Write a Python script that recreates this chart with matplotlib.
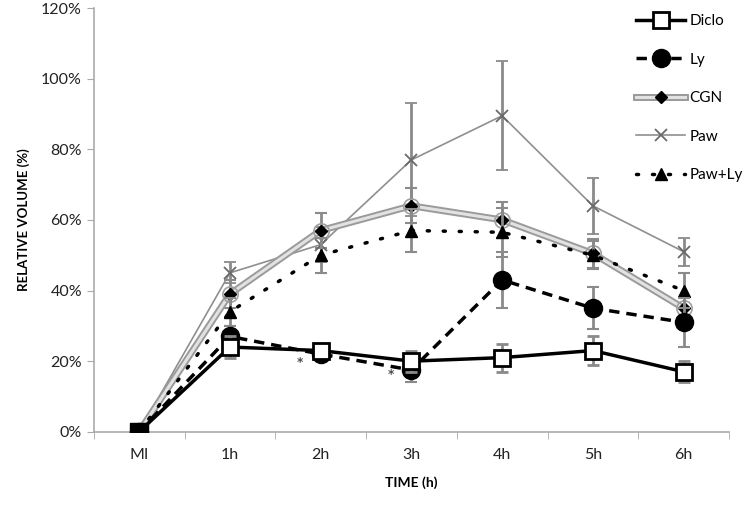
import matplotlib.pyplot as plt
from matplotlib.lines import Line2D
from matplotlib.ticker import PercentFormatter, FixedLocator

# data (relative volume in %)
times = ["MI", "1h", "2h", "3h", "4h", "5h", "6h"]

diclo = [0, 24, 23, 20, 21, 23, 17]
diclo_err = [0, 3, 2, 3, 4, 4, 3]

ly = [0, 27, 22, 17.5, 43, 35, 31]
ly_err = [0, 3, 2, 3.5, 8, 6, 7]

cgn = [0, 39, 57, 64, 60, 50.5, 35]
cgn_err = [0, 4, 5, 5, 5, 4, 3]

paw = [0, 45, 53, 77, 89.5, 64, 51]
paw_err = [0, 3, 5, 16, 15.5, 8, 4]

pawly = [0, 34, 50, 57, 56.5, 50, 40]
pawly_err = [0, 4, 5, 6, 7, 4, 5]

# significance marks (x position, y value)
stars_x = [1.77, 2.78]
stars_y = [18.7, 15.3]

plt.rcParams['font.family'] = ['Lato', 'DejaVu Sans']

fig = plt.figure(figsize=(7.5, 5.05), dpi=100)
ax = fig.add_axes([0.125, 0.145, 0.847, 0.839])
x = list(range(len(times)))

ebar = dict(ecolor='#8a8a8a', elinewidth=2, capsize=4, capthick=1.5)

# styles shared by plot and legend
paw_st = dict(color='#8f8f8f', lw=1.2, marker='x', ms=9, mew=1.3, mec='#6a6a6a')
pawly_st = dict(color='black', lw=2.5, ls=(0, (0.6, 4)), dash_capstyle='round',
                marker='^', ms=8)
ly_st = dict(color='black', lw=2.5, ls=(0, (3, 2)), marker='o', ms=13)
diclo_st = dict(color='black', lw=2.5, marker='s', ms=11, mfc='white', mec='black', mew=2)

# Paw
ax.errorbar(x, paw, yerr=paw_err, zorder=2, **paw_st, **ebar)

# CGN: gray double line look
ax.errorbar(x, cgn, yerr=cgn_err, fmt='none', zorder=2, **ebar)
ax.plot(x, cgn, color='#9a9a9a', lw=5, zorder=3, solid_capstyle='round')
ax.plot(x, cgn, color='#e2e2e2', lw=2.2, zorder=3)
ax.plot(x, cgn, ls='none', marker='o', ms=11, mfc='none', mec='#a0a0a0', mew=1.2, zorder=3)
ax.plot(x, cgn, ls='none', marker='D', ms=6, color='black', zorder=4)

# Paw+Ly
ax.errorbar(x, pawly, yerr=pawly_err, zorder=4, **pawly_st, **ebar)

# Ly
ax.errorbar(x, ly, yerr=ly_err, zorder=5, **ly_st, **ebar)

# Diclo
ax.errorbar(x, diclo, yerr=diclo_err, zorder=6, **diclo_st, **ebar)
# all groups overlap at the baseline, which shows as a solid black block
ax.plot(x[0], diclo[0], marker='s', ms=13, color='black', zorder=7)

for sx, sy in zip(stars_x, stars_y):
    ax.text(sx, sy, '*', ha='center', va='center', fontsize=14, color='#333333')

ax.set_xlim(-0.5, 6.5)
ax.set_ylim(0, 120)
ax.yaxis.set_major_formatter(PercentFormatter(decimals=0))
ax.set_yticks(range(0, 121, 20))
ax.set_xticks(x)
ax.set_xticklabels(times)
ax.xaxis.set_minor_locator(FixedLocator([i - 0.5 for i in range(8)]))
ax.tick_params(axis='x', which='major', length=0, pad=12, labelsize=11.5, colors='#222222')
ax.tick_params(axis='x', which='minor', length=5, color='#aaaaaa')
ax.tick_params(axis='y', length=5, color='#aaaaaa', labelsize=11.5, labelcolor='#222222')

for s in ['top', 'right']:
    ax.spines[s].set_visible(False)
for s in ['left', 'bottom']:
    ax.spines[s].set_color('#aaaaaa')
    ax.spines[s].set_linewidth(1.2)

ax.set_xlabel('TIME (h)', fontsize=10, fontweight='bold', labelpad=10)
ax.set_ylabel('RELATIVE VOLUME (%)', fontsize=9.5, fontweight='bold', labelpad=8)

cgn_handle = (Line2D([], [], color='#9a9a9a', lw=5),
              Line2D([], [], color='#e2e2e2', lw=2.2),
              Line2D([], [], ls='none', marker='D', ms=6, color='black'))
handles = [Line2D([], [], **diclo_st), Line2D([], [], **ly_st), cgn_handle,
           Line2D([], [], **paw_st), Line2D([], [], **pawly_st)]
labels = ['Diclo', 'Ly', 'CGN', 'Paw', 'Paw+Ly']
fig.legend(handles, labels, loc='upper left', bbox_to_anchor=(0.83, 0.999),
           frameon=False, handlelength=3.2, labelspacing=1.6, fontsize=11,
           handletextpad=0.3)

fig.savefig('out.png', dpi=100)
